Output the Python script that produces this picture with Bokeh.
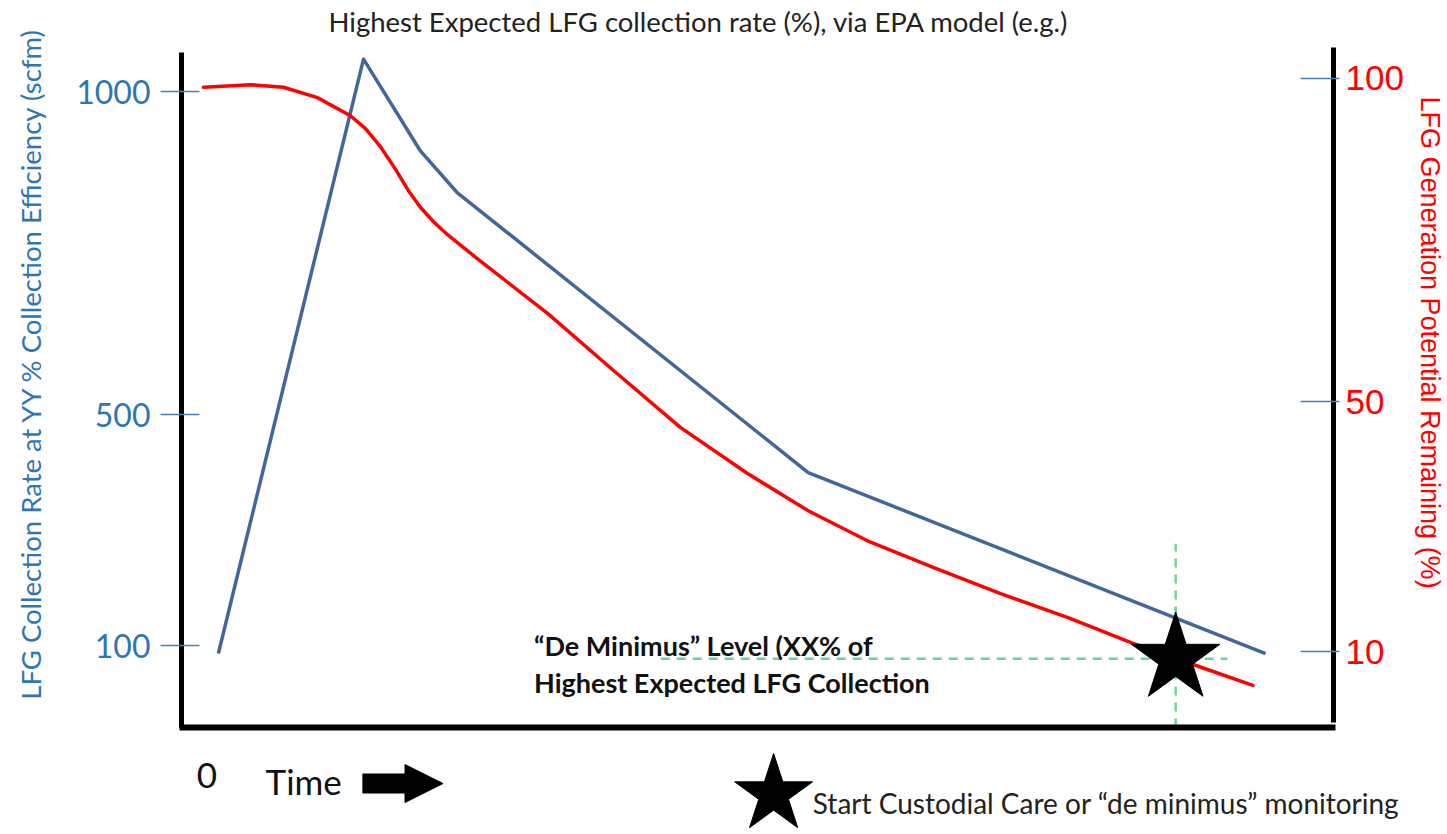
import math
from bokeh.plotting import figure
from bokeh.models import Range1d, LinearAxis, FixedTicker, Arrow, NormalHead, Label
from bokeh.embed import file_html
from bokeh.resources import INLINE
from bokeh.core.properties import value

# ---------------- data (schematic units) ----------------
# time axis has no scale: 0..100 arbitrary units
time_blue = [3.2, 15.8, 20.7, 23.9, 54.4, 94.1]
rate_blue = [130, 1050, 909, 844, 410, 130]          # LFG collection rate (scfm, left axis)

time_red = [1.9, 6.0, 8.85, 11.8, 14.67, 15.97, 17.27, 18.58, 19.70, 20.75, 21.88,
            23.09, 25.95, 31.8, 37.5, 43.3, 49.1, 54.4, 59.5, 65.3, 71.1, 76.9,
            82.6, 88.5, 93.0]
pct_red = [98.6, 99.0, 98.6, 97.0, 94.2, 92.2, 89.4, 85.9, 82.6, 80.0, 77.8,
           75.8, 71.7, 63.6, 54.8, 46.0, 38.9, 33.1, 28.5, 24.3, 20.3, 16.6,
           12.6, 8.9, 6.1]                              # % remaining (right axis)

left_tick_pos = [142, 500, 1000]
left_tick_labels = ["100", "500", "1000"]
right_tick_pos = [11.3, 50, 100]
right_tick_labels = ["10", "50", "100"]

de_min_time = 86.3       # start of custodial care
de_min_rate = 122        # de minimus level
de_min_vline_top = 300
de_min_hline_start = 41.6
de_min_hline_end = 90.8

TITLE = "Highest Expected LFG collection rate (%), via EPA model (e.g.)"
LEFT_LABEL = "LFG Collection Rate at YY % Collection Efficiency (scfm)"
RIGHT_LABEL = "LFG Generation Potential Remaining (%)"
NOTE_1 = "\u201cDe Minimus\u201d Level (XX% of"
NOTE_2 = "Highest Expected LFG Collection"
LEGEND_TEXT = "Start Custodial Care or \u201cde minimus\u201d monitoring"

# ---------------- geometry ----------------
W, H = 1447, 832
T_MIN, T_MAX = 0, 100         # time span of the plotting box
PX_PER_T = 11.52
AXIS_X0 = 181                 # pixel of t = 0
Y_AX_MIN, Y_AX_MAX = 15.5, 1060   # left axis extent (scfm units)
P_AX_MIN, P_AX_MAX = 0.4, 104.75  # right axis extent (%)


def left_units(py):
    return 500 - (py - 414) / 0.646


def right_units(py):
    return 50 - (py - 401) / 6.466


def t_at(px):
    return (px - AXIS_X0) / PX_PER_T


p = figure(width=W, height=H, x_range=Range1d(t_at(0), t_at(W)),
           y_range=Range1d(left_units(H), left_units(0)),
           toolbar_location=None, output_backend="svg",
           min_border_left=0, min_border_right=0, min_border_top=0, min_border_bottom=0)
p.extra_y_ranges = {"pct": Range1d(right_units(H), right_units(0))}
p.outline_line_color = None
p.grid.visible = False
p.background_fill_color = "white"
p.border_fill_color = "white"

# title
p.add_layout(Label(x=t_at(328), y=left_units(21), text=TITLE,
                   text_align="left", text_baseline="middle",
                   text_font="Lato", text_font_size="27.5px", text_color="#222222"))

# bottom axis: plain line at the bottom of the plotting box
xa = p.xaxis[0]
xa.fixed_location = Y_AX_MIN
xa.bounds = (T_MIN - 0.2, T_MAX + 0.2)
xa.ticker = FixedTicker(ticks=[])
xa.axis_line_width = 6
xa.axis_line_color = "black"
xa.major_tick_line_color = None
xa.minor_tick_line_color = None
xa.major_label_text_font_size = "0px"

# left axis
ya = p.yaxis[0]
ya.fixed_location = T_MIN
ya.bounds = (Y_AX_MIN, Y_AX_MAX)
ya.ticker = FixedTicker(ticks=left_tick_pos)
ya.major_label_overrides = {t: l for t, l in zip(left_tick_pos, left_tick_labels)}
ya.axis_line_width = 5
ya.axis_line_color = "black"
ya.major_tick_line_color = "#4a7ebb"
ya.major_tick_line_width = 1.5
ya.major_tick_in = 18
ya.major_tick_out = 21
ya.minor_tick_line_color = None
ya.major_label_standoff = 10
ya.major_label_text_font = "Lato"
ya.major_label_text_font_size = "32px"
ya.major_label_text_color = "#2e75b6"

# right axis
ra = LinearAxis(y_range_name="pct", ticker=FixedTicker(ticks=right_tick_pos),
                fixed_location=T_MAX, bounds=(P_AX_MIN, P_AX_MAX))
ra.major_label_overrides = {t: l for t, l in zip(right_tick_pos, right_tick_labels)}
ra.axis_line_width = 5
ra.axis_line_color = "black"
ra.major_tick_line_color = "#4a7ebb"
ra.major_tick_line_width = 1.5
ra.major_tick_in = 33
ra.major_tick_out = 6
ra.minor_tick_line_color = None
ra.major_label_standoff = 6
ra.major_label_text_font = "Liberation Sans"
ra.major_label_text_font_size = "35px"
ra.major_label_text_color = "#ff0000"
p.add_layout(ra, "right")

# axis titles
p.add_layout(Label(x=t_at(30), y=left_units(363), text=LEFT_LABEL,
                   angle=math.pi / 2, text_align="center", text_baseline="middle",
                   text_font="Lato", text_font_size="27.5px", text_color="#2e75b6"))
p.add_layout(Label(x=t_at(1429), y=left_units(342), text=RIGHT_LABEL,
                   angle=-math.pi / 2, text_align="center", text_baseline="middle",
                   text_font="Liberation Sans", text_font_size="27px", text_color="#ff0000"))

# de minimus guide lines
p.segment(x0=[de_min_time], y0=[Y_AX_MIN], x1=[de_min_time], y1=[de_min_vline_top],
          line_color="#6cd49a", line_width=2.5, line_dash="9 7")
p.segment(x0=[de_min_hline_start], y0=[de_min_rate], x1=[de_min_hline_end], y1=[de_min_rate],
          line_color="#6cd49a", line_width=2.5, line_dash="9 7")

# series
p.line(time_blue, rate_blue, line_color="#44679b", line_width=3.5, line_join="round")
p.line(time_red, pct_red, y_range_name="pct", line_color="#ff0000", line_width=3.5,
       line_join="round", line_cap="round")

# star marking the start of custodial care
p.scatter([de_min_time], [de_min_rate], marker="star", size=93,
          fill_color="black", line_color="black")

# note text
p.text(x=[30.6], y=[142.4], text=[NOTE_1], text_font=value("Lato"), text_font_style="bold",
       text_font_size="27px", text_baseline="middle", text_align="left", text_color="#111111")
p.text(x=[30.6], y=[85.1], text=[NOTE_2], text_font=value("Lato"), text_font_style="bold",
       text_font_size="27px", text_baseline="middle", text_align="left", text_color="#111111")

# ---------------- below the axis: time caption and star legend ----------------
p.text(x=[2.2], y=[left_units(775)], text=["0"], text_font=value("Lato"), text_font_size="35px",
       text_align="center", text_baseline="middle", text_color="#111111")
p.text(x=[7.3], y=[left_units(780)], text=["Time"], text_font=value("Lato"), text_font_size="35px",
       text_align="left", text_baseline="middle", text_color="#111111")
p.add_layout(Arrow(x_start=15.7, y_start=left_units(783), x_end=22.7, y_end=left_units(783),
                   line_width=20, line_color="black",
                   end=NormalHead(size=38, fill_color="black", line_color="black")))
p.scatter([51.4], [left_units(794)], marker="star", size=82,
          fill_color="black", line_color="black")
p.text(x=[54.8], y=[left_units(802)], text=[LEGEND_TEXT], text_font=value("Lato"),
       text_font_size="28px", text_align="left", text_baseline="middle", text_color="#222222")

open("out.html", "w").write(file_html(p, INLINE))
